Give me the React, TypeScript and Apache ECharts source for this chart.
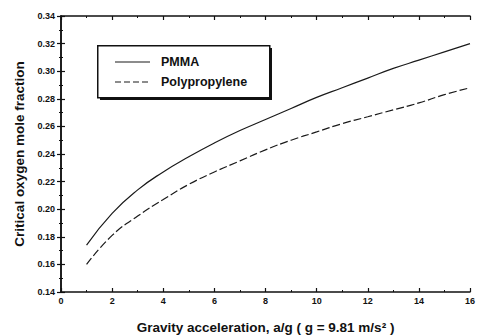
import React, { useEffect, useRef } from "react";
import * as echarts from "echarts";

// Gravity level a/g
const gravity = [1, 2, 3, 4, 5, 6, 7, 8, 9, 10, 11, 12, 13, 14, 15, 16];
// Critical oxygen mole fraction for each material
const pmma = [0.174, 0.197, 0.214, 0.227, 0.238, 0.248, 0.257, 0.265, 0.273, 0.281, 0.288, 0.295, 0.302, 0.308, 0.314, 0.320];
const polypropylene = [0.160, 0.181, 0.195, 0.207, 0.218, 0.227, 0.235, 0.243, 0.250, 0.256, 0.262, 0.267, 0.272, 0.277, 0.283, 0.288];

const legendNames = ["PMMA", "Polypropylene"];

const FONT = "Liberation Sans";

export default function App() {
  const ref = useRef<HTMLDivElement>(null);

  useEffect(() => {
    if (!ref.current) return;
    const chart = echarts.init(ref.current, null, { renderer: "svg" });

    const axisLine = { show: true, lineStyle: { color: "#111", width: 1.5 } };
    const tickStyle = { show: true, inside: true, length: 4, lineStyle: { color: "#111", width: 1.2 } };
    const minorStyle = { show: true, splitNumber: 2, length: 2, lineStyle: { color: "#111", width: 1 } };
    const labelStyle = { fontFamily: FONT, fontWeight: "bold" as const, fontSize: 9, color: "#111" };

    chart.setOption({
      animation: false,
      backgroundColor: "#fff",
      grid: { left: 61, right: 7, top: 16, bottom: 43, outerBoundsMode: "none" },
      xAxis: [
        {
          type: "value",
          min: 0,
          max: 16,
          interval: 2,
          axisLine,
          axisTick: tickStyle,
          minorTick: minorStyle,
          splitLine: { show: false },
          axisLabel: { ...labelStyle, margin: 4 },
          name: "Gravity acceleration, a/g ( g = 9.81 m/s² )",
          nameLocation: "middle",
          nameGap: 28,
          nameTextStyle: { fontFamily: FONT, fontWeight: "bold", fontSize: 13.5, color: "#111" },
        },
        {
          type: "value",
          position: "top",
          min: 0,
          max: 16,
          interval: 2,
          axisLine,
          axisTick: tickStyle,
          minorTick: minorStyle,
          splitLine: { show: false },
          axisLabel: { show: false },
        },
      ],
      yAxis: [
        {
          type: "value",
          min: 0.14,
          max: 0.34,
          interval: 0.02,
          axisLine,
          axisTick: tickStyle,
          minorTick: minorStyle,
          splitLine: { show: false },
          axisLabel: { ...labelStyle, margin: 6, formatter: (v: number) => v.toFixed(2) },
          name: "Critical oxygen mole fraction",
          nameLocation: "middle",
          nameGap: 35,
          nameTextStyle: { fontFamily: FONT, fontWeight: "bold", fontSize: 13.5, color: "#111" },
        },
        {
          type: "value",
          position: "right",
          min: 0.14,
          max: 0.34,
          interval: 0.02,
          axisLine,
          axisTick: tickStyle,
          minorTick: minorStyle,
          splitLine: { show: false },
          axisLabel: { show: false },
        },
      ],
      series: [
        {
          name: legendNames[0],
          type: "line",
          xAxisIndex: 0,
          yAxisIndex: 0,
          data: gravity.map((g, i) => [g, pmma[i]]),
          smooth: 0.5,
          showSymbol: false,
          lineStyle: { color: "#1a1a1a", width: 1.2, type: "solid" },
        },
        {
          name: legendNames[1],
          type: "line",
          xAxisIndex: 0,
          yAxisIndex: 0,
          data: gravity.map((g, i) => [g, polypropylene[i]]),
          smooth: 0.5,
          showSymbol: false,
          lineStyle: { color: "#1a1a1a", width: 1.2, type: [8, 3] },
        },
      ],
      graphic: [
        // legend box with drop shadow
        { type: "rect", left: 100, top: 48, shape: { width: 172, height: 52 }, style: { fill: "#111" }, z: 10 },
        { type: "rect", left: 97, top: 45, shape: { width: 172, height: 52 }, style: { fill: "#fff", stroke: "#111", lineWidth: 1.5 }, z: 11 },
        { type: "line", shape: { x1: 115, y1: 62, x2: 150, y2: 62 }, style: { stroke: "#1a1a1a", lineWidth: 1.2 }, z: 12 },
        { type: "line", shape: { x1: 115, y1: 82, x2: 150, y2: 82 }, style: { stroke: "#1a1a1a", lineWidth: 1.2, lineDash: [6, 3] }, z: 12 },
        { type: "text", left: 161, top: 55, style: { text: legendNames[0], fontFamily: FONT, fontWeight: "bold", fontSize: 12.5, fill: "#111" }, z: 12 },
        { type: "text", left: 161, top: 75, style: { text: legendNames[1], fontFamily: FONT, fontWeight: "bold", fontSize: 12.5, fill: "#111" }, z: 12 },
      ],
    });

    return () => chart.dispose();
  }, []);

  return <div ref={ref} style={{ width: 477, height: 335, position: "absolute", left: 0, top: 0 }} />;
}
